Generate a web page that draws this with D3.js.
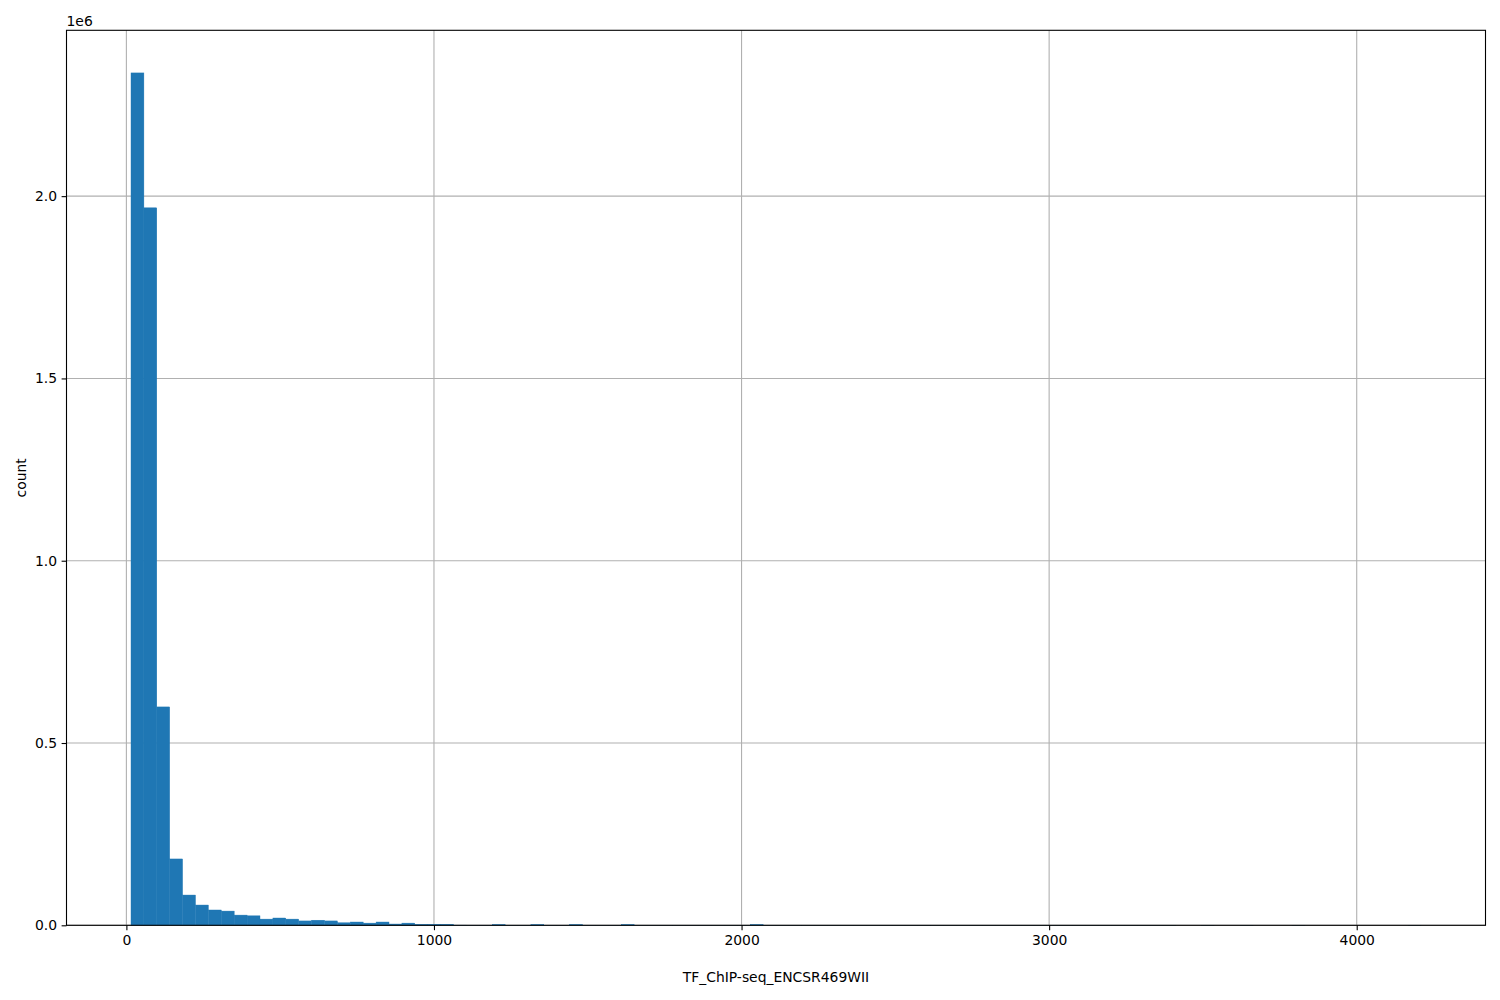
<!DOCTYPE html>
<html>
<head>
<meta charset="utf-8">
<script src="https://cdn.jsdelivr.net/npm/d3@7"></script>
<style>
  html, body { margin: 0; padding: 0; background: #fff; }
  svg { display: block; font-family: "DejaVu Sans", sans-serif; }
</style>
</head>
<body>
<svg id="chart" width="1500" height="1000"></svg>
<script>
// ---- data ----
const binStart = 15;
const binEnd = 4209;
const binCount = 100;
const counts = [
  2338000, 1968000, 599000, 182000, 83000, 55600, 42000, 39000, 28000, 26000,
  17000, 20000, 17000, 12000, 14000, 12000, 7000, 9000, 6000, 9000,
  3500, 6000, 3000, 3000, 3000, 400, 300, 300, 2500, 200,
  200, 2500, 150, 150, 2500, 100, 100, 100, 2500, 60,
  50, 50, 40, 40, 40, 30, 30, 30, 2500, 20,
  20, 20, 10, 10, 10, 10, 10, 5, 5, 5,
  5, 5, 5, 3, 3, 3, 3, 3, 2, 2,
  2, 2, 2, 1, 1, 1, 1, 1, 1, 1,
  1, 0, 0, 1, 0, 0, 1, 0, 0, 0,
  1, 0, 0, 0, 0, 0, 0, 0, 0, 1
];
const xTicks = [0, 1000, 2000, 3000, 4000];
const yTicks = [0, 500000, 1000000, 1500000, 2000000];
const xLabel = "TF_ChIP-seq_ENCSR469WII";
const yLabel = "count";
const offsetLabel = "1e6";

// ---- layout ----
const mLeft = 66.5, mRight = 1485.5, mTop = 30.3, mBottom = 925.3;
const svg = d3.select("#chart");

const span = binEnd - binStart;
const binW = span / binCount;
const bins = counts.map((c, i) => ({ x0: binStart + i * binW, x1: binStart + (i + 1) * binW, c }));

const x = d3.scaleLinear()
  .domain([binStart - 0.05 * span, binEnd + 0.05 * span])
  .range([mLeft, mRight]);
const yMax = d3.max(counts) * 1.05;
const y = d3.scaleLinear().domain([0, yMax]).range([mBottom, mTop]);

// grid
const grid = svg.append("g");
grid.selectAll("line.gx").data(xTicks).join("line").attr("class", "gx")
  .attr("x1", d => x(d)).attr("x2", d => x(d))
  .attr("y1", mTop).attr("y2", mBottom)
  .attr("stroke", "#b0b0b0").attr("stroke-width", 1.1);
grid.selectAll("line.gy").data(yTicks).join("line").attr("class", "gy")
  .attr("x1", mLeft).attr("x2", mRight)
  .attr("y1", d => y(d)).attr("y2", d => y(d))
  .attr("stroke", "#b0b0b0").attr("stroke-width", 1.1);

// bars
svg.append("g").selectAll("rect").data(bins.filter(b => b.c > 0)).join("rect")
  .attr("x", d => x(d.x0))
  .attr("width", d => x(d.x1) - x(d.x0))
  .attr("y", d => y(d.c))
  .attr("height", d => y(0) - y(d.c))
  .attr("fill", "#1f77b4")
  .attr("stroke", "#1f77b4")
  .attr("stroke-width", 0.4);

// axes
const xAxis = d3.axisBottom(x).tickValues(xTicks).tickFormat(d3.format("d"))
  .tickSizeInner(4.9).tickSizeOuter(0).tickPadding(4.5);
const gx = svg.append("g").attr("transform", `translate(0,${mBottom})`).call(xAxis);
const yAxis = d3.axisLeft(y).tickValues(yTicks).tickFormat(d => (d / 1e6).toFixed(1))
  .tickSizeInner(4.9).tickSizeOuter(0).tickPadding(4.5);
const gy = svg.append("g").attr("transform", `translate(${mLeft},0)`).call(yAxis);
[gx, gy].forEach(g => {
  g.select(".domain").remove();
  g.selectAll(".tick line").attr("stroke", "#000").attr("stroke-width", 1.1);
  g.selectAll(".tick text").attr("font-size", 13.9).attr("fill", "#000")
    .attr("font-family", "DejaVu Sans, sans-serif");
});

// frame
svg.append("rect")
  .attr("x", mLeft).attr("y", mTop)
  .attr("width", mRight - mLeft).attr("height", mBottom - mTop)
  .attr("fill", "none").attr("stroke", "#000").attr("stroke-width", 1.1);

// labels
svg.append("text").attr("x", (mLeft + mRight) / 2).attr("y", 982)
  .attr("text-anchor", "middle").attr("font-size", 13.9).text(xLabel);
svg.append("text")
  .attr("transform", `translate(26,${(mTop + mBottom) / 2}) rotate(-90)`)
  .attr("text-anchor", "middle").attr("font-size", 13.9).text(yLabel);
svg.append("text").attr("x", mLeft).attr("y", 26)
  .attr("font-size", 13.9).text(offsetLabel);
</script>
</body>
</html>
